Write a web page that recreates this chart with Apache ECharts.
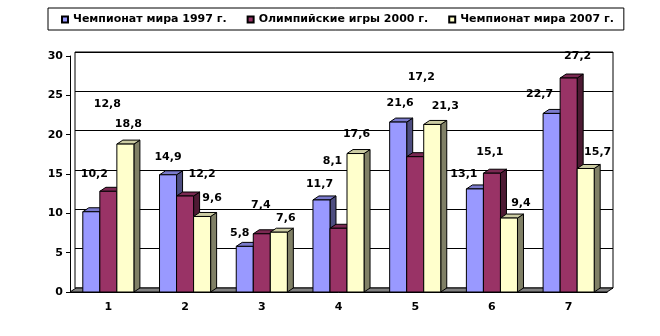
<!DOCTYPE html>
<html>
<head>
<meta charset="utf-8">
<script src="https://cdn.jsdelivr.net/npm/echarts@6/dist/echarts.min.js"></script>
<style>
  html, body { margin: 0; padding: 0; background: #fff; }
  #chart { width: 660px; height: 336px; }
</style>
</head>
<body>
<div id="chart"></div>
<script>
// Categories and series values
const categories = ['1', '2', '3', '4', '5', '6', '7'];
const seriesNames = ['Чемпионат мира 1997 г.', 'Олимпийские игры 2000 г.', 'Чемпионат мира 2007 г.'];
const champ1997 = [10.2, 14.9, 5.8, 11.7, 21.6, 13.1, 22.7];
const olymp2000 = [12.8, 12.2, 7.4, 8.1, 17.2, 15.1, 27.2];
const champ2007 = [18.8, 9.6, 7.6, 17.6, 21.3, 9.4, 15.7];
const valueAxis = { min: 0, max: 30, step: 5 };

// Value-label placement: horizontal shift and lift above the bar top (px)
const labelShiftX = [
  [3, 0, -5, -2, 2, -11, -12],
  [-1, 17, -1, -6, 6, -2, 9],
  [3, 10, 7, 1, 13, 12, 12]
];
const labelLift = [
  [38, 18, 13, 16, 19, 15, 19],
  [87, 22, 29, 67, 80, 21, 22],
  [20, 18, 14, 19, 18, 15, 16]
];

// Face colours: front, top, side
const palette = [
  ['#9999FF', '#7A7ACC', '#4D4D80'],
  ['#993366', '#7A2952', '#4D1A33'],
  ['#FFFFCC', '#CCCCA3', '#808066']
];

const seriesValues = [champ1997, olymp2000, champ2007];
const DEPTH_X = 6, DEPTH_Y = 4;
const BAR_FRACTION = 0.222;
const FONT = 'bold 11px "DejaVu Sans"';

function barGeometry(api, ci, v, sIdx) {
  const base = api.coord([ci, 0]);
  const top = api.coord([ci, v]);
  const band = api.size([1, 0])[0];
  const w = band * BAR_FRACTION;
  const x0 = base[0] - w * 1.5 + sIdx * w;
  return { x0, w, yb: base[1], yt: top[1] };
}

function barRenderer(sIdx) {
  const [front, topC, side] = palette[sIdx];
  return function (params, api) {
    const { x0, w, yb, yt } = barGeometry(api, api.value(0), api.value(1), sIdx);
    const line = { stroke: '#000', lineWidth: 1 };
    return {
      type: 'group',
      children: [
        { type: 'polygon', shape: { points: [[x0 + w, yt], [x0 + w + DEPTH_X, yt - DEPTH_Y], [x0 + w + DEPTH_X, yb - DEPTH_Y], [x0 + w, yb]] },
          style: Object.assign({ fill: side }, line) },
        { type: 'polygon', shape: { points: [[x0, yt], [x0 + w, yt], [x0 + w + DEPTH_X, yt - DEPTH_Y], [x0 + DEPTH_X, yt - DEPTH_Y]] },
          style: Object.assign({ fill: topC }, line) },
        { type: 'rect', shape: { x: x0, y: yt, width: w, height: yb - yt },
          style: Object.assign({ fill: front }, line) }
      ]
    };
  };
}

// Grey floor slab between the front axis and the back wall
function floorRenderer(params) {
  const c = params.coordSys;
  const yb = c.y + c.height;
  return {
    type: 'polygon',
    shape: { points: [[c.x, yb], [c.x + c.width, yb], [c.x + c.width + DEPTH_X, yb - DEPTH_Y], [c.x + DEPTH_X, yb - DEPTH_Y]] },
    style: { fill: '#808080', stroke: '#000', lineWidth: 1 }
  };
}

function labelRenderer(params, api) {
  const ci = api.value(0), v = api.value(1), sIdx = api.value(2);
  const g = barGeometry(api, ci, v, sIdx);
  return {
    type: 'text',
    x: g.x0 + g.w / 2 + labelShiftX[sIdx][ci],
    y: g.yt - labelLift[sIdx][ci],
    style: {
      text: v.toFixed(1).replace('.', ','),
      fill: '#000',
      font: FONT,
      align: 'center',
      verticalAlign: 'middle'
    }
  };
}

const labelData = [];
seriesValues.forEach((vals, s) => vals.forEach((v, i) => labelData.push([i, v, s])));

const series = [
  { type: 'custom', name: 'floor', xAxisIndex: 0, yAxisIndex: 0, renderItem: floorRenderer, data: [[0, 0]], silent: true, clip: false, z: 1 }
];
seriesValues.forEach((vals, s) => {
  series.push({
    type: 'custom',
    name: seriesNames[s],
    xAxisIndex: 0, yAxisIndex: 0,
    renderItem: barRenderer(s),
    itemStyle: { color: palette[s][0], borderColor: '#000', borderWidth: 1 },
    data: vals.map((v, i) => [i, v]),
    clip: false,
    z: 2
  });
});
series.push({ type: 'custom', name: 'labels', xAxisIndex: 0, yAxisIndex: 0, renderItem: labelRenderer, data: labelData, clip: false, silent: true, z: 5 });

const chart = echarts.init(document.getElementById('chart'), null, { renderer: 'canvas' });
chart.setOption({
  animation: false,
  backgroundColor: '#fff',
  legend: {
    data: seriesNames,
    left: 48, top: 8,
    padding: [6, 10, 5, 13],
    borderColor: '#000', borderWidth: 1,
    itemWidth: 6, itemHeight: 6, itemGap: 20,
    icon: 'rect',
    textStyle: { fontFamily: 'DejaVu Sans', fontWeight: 'bold', fontSize: 11, color: '#000' }
  },
  grid: [
    { left: 70, right: 53, top: 56, bottom: 44 },
    { left: 75, right: 47, top: 52, bottom: 48, show: true, borderColor: '#000', borderWidth: 1, backgroundColor: '#fff', z: 0 }
  ],
  xAxis: [
    {
      gridIndex: 0, type: 'category', data: categories,
      axisLine: { lineStyle: { color: '#000', width: 1 } },
      axisTick: { length: 4, lineStyle: { color: '#000' } },
      axisLabel: { color: '#000', fontFamily: 'DejaVu Sans', fontWeight: 'bold', fontSize: 11, margin: 10 }
    },
    { gridIndex: 1, type: 'category', data: categories, show: false }
  ],
  yAxis: [
    {
      gridIndex: 0, type: 'value', min: valueAxis.min, max: valueAxis.max, interval: valueAxis.step,
      axisLine: { show: true, lineStyle: { color: '#000', width: 1 } },
      axisTick: { show: true, length: 4, lineStyle: { color: '#000' } },
      axisLabel: { color: '#000', fontFamily: 'DejaVu Sans', fontWeight: 'bold', fontSize: 11, margin: 7 },
      splitLine: { show: false }
    },
    {
      gridIndex: 1, type: 'value', min: valueAxis.min, max: valueAxis.max, interval: valueAxis.step,
      axisLine: { show: false }, axisTick: { show: false }, axisLabel: { show: false },
      splitLine: { show: true, lineStyle: { color: '#000', width: 1 } }
    }
  ],
  series: series
});
</script>
</body>
</html>
